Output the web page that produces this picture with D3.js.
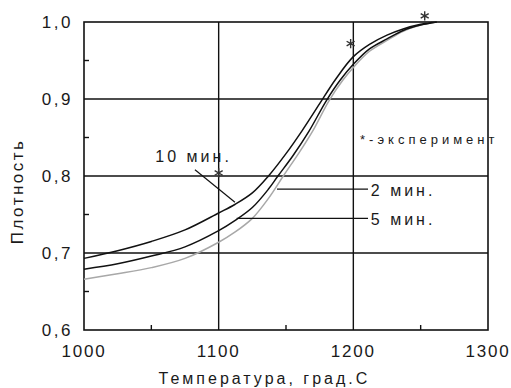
<!DOCTYPE html>
<html>
<head>
<meta charset="utf-8">
<script src="https://cdn.jsdelivr.net/npm/d3@7"></script>
<style>
  body { margin: 0; background: #fff; }
  text { font-family: "Liberation Sans", Arial, sans-serif; fill: #1a1a1a; }
</style>
</head>
<body>
<div id="chart"></div>
<script>
// curves: temperature (deg C) and density
var temp10 = [1000, 1025, 1050, 1075, 1100, 1112, 1125, 1137, 1150, 1162, 1175, 1187, 1200, 1212, 1225, 1237, 1250, 1262];
var dens10 = [0.693, 0.703, 0.715, 0.730, 0.752, 0.763, 0.778, 0.800, 0.829, 0.859, 0.894, 0.926, 0.955, 0.971, 0.983, 0.991, 0.997, 1.000];

var temp5 = [1000, 1025, 1050, 1075, 1100, 1112, 1125, 1137, 1144, 1155, 1167, 1180, 1190, 1200, 1212, 1225, 1237, 1250, 1262];
var dens5 = [0.679, 0.686, 0.696, 0.708, 0.729, 0.742, 0.759, 0.783, 0.800, 0.826, 0.858, 0.898, 0.924, 0.945, 0.965, 0.978, 0.989, 0.996, 1.000];

var temp2 = [1000, 1025, 1050, 1075, 1100, 1112, 1125, 1137, 1148, 1160, 1170, 1182, 1192, 1200, 1212, 1225, 1237, 1250, 1262];
var dens2 = [0.666, 0.673, 0.681, 0.693, 0.714, 0.727, 0.745, 0.771, 0.800, 0.831, 0.859, 0.898, 0.924, 0.941, 0.962, 0.976, 0.988, 0.996, 1.000];

// experiment points
var expTemp = [1100, 1198, 1253];
var expDens = [0.804, 0.972, 1.008];

var xTicks = [1000, 1100, 1200, 1300];
var yTicks = [0.6, 0.7, 0.8, 0.9, 1.0];
var xMinor = [1050, 1150, 1250];
var yMinor = [0.65, 0.75, 0.85, 0.95];

// set the dimensions and margins of the graph
var vMargin = { mTop: 22, mRight: 23, mBottom: 58, mLeft: 84 },
    vWidth = 511 - vMargin.mLeft - vMargin.mRight,
    vHeight = 388 - vMargin.mTop - vMargin.mBottom;

var svg = d3.select("#chart")
    .append("svg")
    .attr("width", 511)
    .attr("height", 388)
    .append("g")
    .attr("transform", "translate(" + vMargin.mLeft + "," + vMargin.mTop + ")");

var x = d3.scaleLinear().domain([1000, 1300]).range([0, vWidth]);
var y = d3.scaleLinear().domain([0.6, 1.0]).range([vHeight, 0]);

// grid lines
svg.append("g")
    .selectAll("line")
    .data(xTicks.slice(1, -1))
    .enter().append("line")
    .attr("x1", function (d) { return x(d); })
    .attr("x2", function (d) { return x(d); })
    .attr("y1", 0).attr("y2", vHeight)
    .attr("stroke", "#111").attr("stroke-width", 1.4);
svg.append("g")
    .selectAll("line")
    .data(yTicks.slice(1, -1))
    .enter().append("line")
    .attr("y1", function (d) { return y(d); })
    .attr("y2", function (d) { return y(d); })
    .attr("x1", 0).attr("x2", vWidth)
    .attr("stroke", "#111").attr("stroke-width", 1.4);

// minor ticks, pointing inside
svg.append("g").selectAll("line").data(yMinor).enter().append("line")
    .attr("x1", 0).attr("x2", 5)
    .attr("y1", function (d) { return y(d); })
    .attr("y2", function (d) { return y(d); })
    .attr("stroke", "#111").attr("stroke-width", 1.4);
svg.append("g").selectAll("line").data(xMinor).enter().append("line")
    .attr("y1", vHeight).attr("y2", vHeight - 5)
    .attr("x1", function (d) { return x(d); })
    .attr("x2", function (d) { return x(d); })
    .attr("stroke", "#111").attr("stroke-width", 1.4);

// frame
svg.append("rect")
    .attr("width", vWidth).attr("height", vHeight)
    .attr("fill", "none").attr("stroke", "#111").attr("stroke-width", 1.6);

// tick labels
var tickFmt = d3.format(".1f");
svg.append("g").selectAll("text").data(yTicks).enter().append("text")
    .attr("x", -11)
    .attr("y", function (d) { return y(d); })
    .attr("dy", "0.36em")
    .attr("text-anchor", "end")
    .style("font-size", "17px")
    .style("letter-spacing", "2.5px")
    .text(function (d) { return tickFmt(d).replace(".", ","); });
svg.append("g").selectAll("text").data(xTicks).enter().append("text")
    .attr("x", function (d) { return x(d); })
    .attr("y", vHeight + 27)
    .attr("text-anchor", "middle")
    .style("font-size", "17px")
    .style("letter-spacing", "1.8px")
    .text(function (d) { return d; });

// axis titles
svg.append("text")
    .attr("x", x(1134))
    .attr("y", vHeight + 54)
    .attr("text-anchor", "middle")
    .style("font-size", "16px")
    .style("letter-spacing", "3px")
    .text("Температура, град.С");
svg.append("text")
    .attr("transform", "translate(" + (-61) + "," + y(0.78) + ") rotate(-90)")
    .attr("text-anchor", "middle")
    .style("font-size", "17px")
    .style("letter-spacing", "2.5px")
    .text("Плотность");

// curves
var line = d3.line()
    .x(function (d) { return x(d[0]); })
    .y(function (d) { return y(d[1]); })
    .curve(d3.curveCatmullRom.alpha(0.5));

var vSeries = [
    { t: temp2, d: dens2, color: "#a8a8a8" },
    { t: temp5, d: dens5, color: "#111" },
    { t: temp10, d: dens10, color: "#111" }
];
vSeries.forEach(function (aSeries) {
    svg.append("path")
        .datum(d3.zip(aSeries.t, aSeries.d))
        .attr("d", line)
        .attr("fill", "none")
        .attr("stroke", aSeries.color)
        .attr("stroke-width", 1.5);
});

// experiment asterisks
svg.append("g").selectAll("path").data(d3.zip(expTemp, expDens)).enter().append("path")
    .attr("transform", function (d) { return "translate(" + x(d[0]) + "," + y(d[1]) + ")"; })
    .attr("d", d3.symbol().type(d3.symbolAsterisk).size(60))
    .attr("fill", "none")
    .attr("stroke", "#333")
    .attr("stroke-width", 1.4);

// labels and leader lines
var vLeaders = [
    { x1: 1082.4, y1: 0.808, x2: 1112.1, y2: 0.766 },
    { x1: 1143.3, y1: 0.783, x2: 1210.9, y2: 0.783 },
    { x1: 1113.4, y1: 0.745, x2: 1210.9, y2: 0.745 }
];
svg.append("g").selectAll("line").data(vLeaders).enter().append("line")
    .attr("x1", function (d) { return x(d.x1); })
    .attr("y1", function (d) { return y(d.y1); })
    .attr("x2", function (d) { return x(d.x2); })
    .attr("y2", function (d) { return y(d.y2); })
    .attr("stroke", "#111").attr("stroke-width", 1.2);

var vLabels = [
    { t: 1053, d: 0.818, s: "10 мин." },
    { t: 1213, d: 0.774, s: "2 мин." },
    { t: 1213, d: 0.736, s: "5 мин." }
];
svg.append("g").selectAll("text").data(vLabels).enter().append("text")
    .attr("x", function (d) { return x(d.t); })
    .attr("y", function (d) { return y(d.d); })
    .style("font-size", "16px")
    .style("letter-spacing", "3px")
    .text(function (d) { return d.s; });

svg.append("text")
    .attr("x", x(1205))
    .attr("y", y(0.841))
    .style("font-size", "13px")
    .style("letter-spacing", "4px")
    .text("*-эксперимент");
</script>
</body>
</html>
